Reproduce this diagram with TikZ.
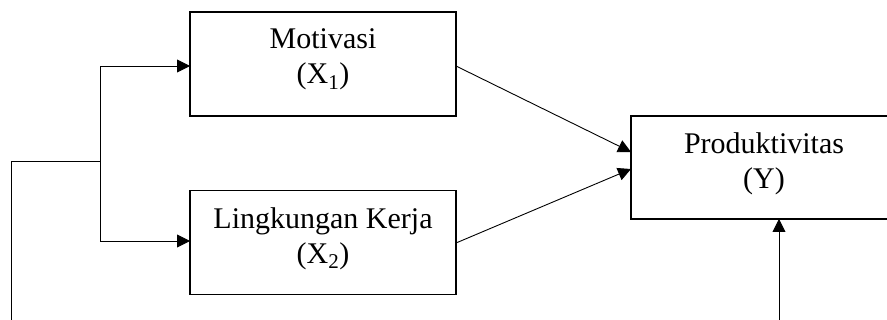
\documentclass[tikz,border=0pt]{standalone}
\usepackage{fontspec}
\setmainfont{Liberation Serif}
\usetikzlibrary{arrows.meta,calc}
\begin{document}
\begin{tikzpicture}[x=1pt,y=-1pt,
  boxnode/.style={draw=black,line width=1.2pt,minimum width=266pt,minimum height=104pt,inner sep=0pt,outer sep=0pt},
  lbl/.style={align=center,inner sep=0pt,font=\fontsize{30}{35}\selectfont},
  conn/.style={draw=black,line width=0.9pt},
  arr/.style={conn,-{Triangle[length=13pt,width=13pt]}}]
\useasboundingbox (0,0) rectangle (887,320);
\clip (0,0) rectangle (887,320);
% boxes
\node[boxnode] (m) at (323,64) {};
\node[boxnode] (l) at (323,242.5) {};
\node[boxnode,minimum height=103pt] (p) at (764,167.5) {};
% labels
\node[lbl] (mt) at ([yshift=4.5pt]m.center) {Motivasi\\(X\textsubscript{1})};
\node[lbl] (lt) at ([yshift=4pt]l.center) {Lingkungan Kerja\\(X\textsubscript{2})};
\node[lbl] (pt) at ([yshift=4pt]p.center) {Produktivitas\\(Y)};
% left tree
\coordinate (s) at (11,330);
\coordinate (j) at (100,161);
\draw[conn] (s) |- (j);
\draw[arr] (j) |- ($(m.west)+(0,2)$);
\draw[arr] (j) |- ($(l.west)+(0,-1.5)$);
% diagonal arrows
\draw[arr] ($(m.east)+(0,2)$) -- ($(p.west)+(0,-15.5)$);
\draw[arr] ($(l.east)+(0,0.5)$) -- ($(p.west)+(0,1.5)$);
% bottom arrow
\coordinate (b) at (779,330);
\draw[arr] (b) -- (b |- p.south);
\end{tikzpicture}
\end{document}
